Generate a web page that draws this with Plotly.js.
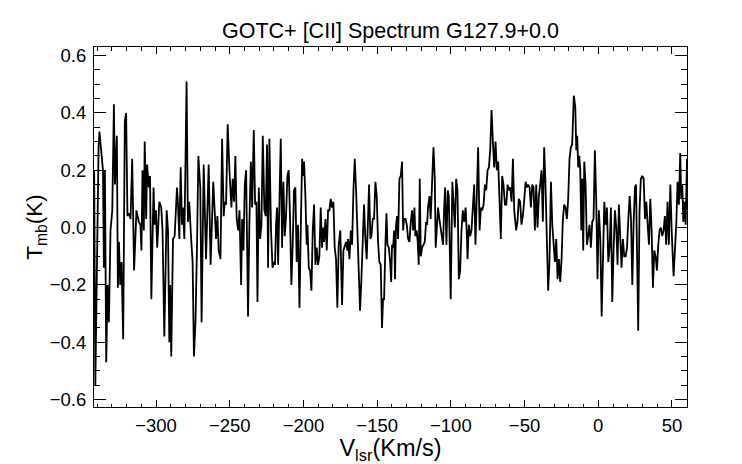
<!DOCTYPE html>
<html>
<head>
<meta charset="utf-8">
<script src="https://cdn.plot.ly/plotly-3.0.1.min.js"></script>
<style>html,body{margin:0;padding:0;background:#fff;}#chart{width:742px;height:464px;}</style>
</head>
<body>
<div id="chart"></div>
<script>
// Velocity (km/s) and main-beam temperature (K)
var velocity = [
-342.0,-341.2,-339.0,-338.4,-336.9,-336.0,-335.4,-334.7,-333.8,-332.9,-332.0,-330.9,-329.7,-328.6,-327.9,-326.6,-325.9,-325.2,-324.3,-323.4,-322.3,-321.2,-320.3,-319.4,-318.5,-317.3,-316.2,-314.9,-313.3,-311.7,-310.6,-309.9,-309.2,-308.3,-307.7,-306.7,-306.1,-304.9,-304.1,-303.2,
-301.7,-301.0,-300.1,-299.2,-297.8,-296.5,-295.6,-294.4,-292.8,-291.9,-291.0,-290.4,-289.7,-288.5,-287.4,-285.8,-285.1,-284.2,-283.3,-282.4,-281.8,-280.8,-280.2,-279.3,-278.4,-277.5,-276.3,-275.2,-274.3,-273.2,-272.2,-271.3,-270.0,-269.1,-267.7,-266.1,-264.3,-263.0,-261.2,
-259.3,-258.4,-257.5,-256.3,-255.2,-254.1,-253.4,-252.5,-251.4,-250.2,-248.9,-248.0,-247.1,-246.2,-245.3,-244.3,-243.4,-242.3,-241.6,-240.7,-239.8,-238.9,-237.6,-236.7,-235.7,-234.8,-233.7,-232.8,-231.9,-231.2,-230.3,-229.4,-228.5,-227.6,-226.5,-225.6,-224.7,-224.0,-223.1,-222.0,-221.0,
-220.0,-219.3,-218.6,-217.9,-217.2,-216.3,-215.4,-214.5,-213.6,-212.7,-211.8,-210.9,-210.0,-209.1,-208.2,-207.3,-206.4,-205.5,-204.6,-203.7,-202.7,-201.8,-200.9,-200.3,-199.6,-198.7,-197.8,-197.3,-196.4,-195.5,-194.6,-193.7,-192.8,-191.9,-191.0,-190.1,-189.2,-188.3,-187.4,-186.7,-186.0,-185.1,-184.2,-183.3,-182.4,-181.5,-180.6,-179.7,
-178.8,-177.9,-177.0,-176.1,-175.0,-173.8,-172.9,-171.1,-170.2,-169.7,-168.8,-167.9,-167.0,-166.1,-165.2,-164.3,-163.4,-162.5,-161.6,-160.7,-159.8,-158.9,-158.0,-157.1,-156.2,-155.5,-154.6,-153.9,-153.0,-152.1,-151.2,-150.3,-149.4,-148.5,-147.6,-146.7,-146.0,-145.3,-144.4,-143.7,-143.0,-142.1,-141.2,-140.5,-139.9,
-139.2,-138.5,-137.9,-137.2,-136.5,-135.8,-134.9,-134.0,-133.1,-132.4,-131.8,-130.8,-129.9,-129.0,-128.1,-127.2,-126.3,-125.6,-124.7,-124.1,-123.2,-122.5,-121.8,-121.1,-120.4,-119.5,-118.6,-117.7,-116.8,-116.1,-115.5,-114.5,-113.7,-112.8,-111.8,-110.9,-110.3,-109.6,-108.7,-107.8,-106.9,-106.0,-105.3,-104.6,-103.9,-103.0,-102.1,-101.4,-100.8,-100.1,-99.0,
-97.3,-96.4,-95.5,-94.6,-93.7,-92.8,-91.9,-91.0,-90.0,-89.1,-88.7,-87.8,-86.9,-86.0,-85.1,-84.2,-83.3,-82.4,-81.5,-80.5,-79.6,-78.7,-77.8,-76.9,-76.0,-75.1,-74.2,-73.3,-72.4,-71.5,-70.6,-69.7,-68.8,-67.9,-66.9,-66.1,-65.2,-64.3,-63.3,-62.4,-61.5,-60.6,-59.7,-58.8,-57.9,-57.0,
-55.7,-54.8,-53.9,-53.0,-52.1,-51.2,-50.3,-49.3,-48.4,-47.5,-46.6,-45.7,-44.8,-43.9,-43.0,-42.1,-41.2,-40.3,-39.4,-38.5,-37.6,-36.7,-35.8,-34.9,-34.0,-33.1,-32.1,-31.2,-30.3,-29.4,-28.5,-27.6,-26.7,-25.8,-24.9,-24.0,-23.1,-22.2,-21.3,-20.4,-19.5,-18.6,-17.7,-16.6,
-15.6,-14.9,-14.3,-13.6,-12.9,-12.2,-11.5,-10.9,-10.2,-9.5,-8.6,-7.7,-6.8,-5.9,-5.0,-4.1,-3.2,-2.3,-1.4,-0.5,0.4,1.4,2.3,3.2,4.1,5.0,5.9,6.8,7.7,8.6,9.5,10.4,11.3,12.2,13.1,14.0,14.9,15.8,16.7,17.6,18.6,19.5,20.4,21.3,22.2,23.1,24.0,
24.9,25.6,26.2,27.1,28.0,28.9,29.8,30.8,31.7,32.6,33.5,34.4,35.3,36.2,37.1,38.0,38.9,39.8,40.7,41.6,42.5,43.4,44.3,45.2,46.1,47.0,47.9,48.9,49.8,51.1,52.0,52.9,53.8,54.7,55.6,56.3,57.0,57.7,58.4,59.3,60.2
];
var tmb = [
0.20,-0.55,0.28,0.335,0.25,0.20,-0.14,0.20,-0.47,-0.20,-0.33,-0.01,0.06,0.43,0.15,0.32,-0.21,-0.05,-0.20,-0.12,-0.39,0.37,0.40,0.04,0.05,0.03,0.24,-0.15,0.06,0.02,0.01,-0.08,0.20,-0.01,0.30,0.03,0.22,0.14,0.18,-0.25,
0.14,0.01,0.06,-0.07,0.09,0.07,-0.01,-0.38,0.06,-0.01,-0.40,-0.20,-0.45,-0.04,-0.03,0.14,0.08,-0.04,0.21,0.01,0.07,-0.04,0.17,0.51,0.02,0.09,-0.03,-0.12,-0.45,-0.32,-0.06,0.25,0.14,-0.33,0.22,-0.11,0.22,-0.13,0.16,
-0.04,0.04,-0.08,-0.11,0.31,0.04,0.09,0.08,0.36,0.20,0.07,0.17,0.09,0.25,0.03,-0.01,0.06,-0.20,0.03,-0.08,0.15,0.20,-0.31,0.01,0.23,0.07,0.34,0.08,0.09,-0.26,0.14,-0.04,0.01,0.32,0.06,0.04,0.29,-0.14,0.31,-0.01,-0.14,
-0.12,-0.13,0.01,0.07,-0.13,0.15,0.31,-0.07,0.16,-0.03,0.04,0.18,0.20,0.03,-0.20,-0.06,0.13,0.14,-0.12,0.01,-0.28,0.00,0.24,0.18,0.23,0.11,-0.06,0.01,-0.14,-0.15,-0.22,-0.01,0.08,-0.13,-0.07,-0.13,-0.10,0.07,-0.07,0.00,-0.05,0.03,-0.08,0.06,0.06,0.10,0.07,0.09,
-0.07,-0.11,-0.28,-0.06,-0.01,-0.27,-0.08,-0.05,-0.08,-0.04,-0.11,-0.01,-0.06,0.13,0.24,0.13,-0.01,-0.20,-0.29,-0.18,-0.01,0.08,-0.04,-0.11,0.03,0.15,-0.04,-0.03,0.03,0.03,0.16,0.11,-0.05,-0.12,-0.13,-0.35,-0.25,-0.25,-0.06,0.05,-0.06,-0.07,-0.12,-0.19,-0.06,
-0.07,-0.01,-0.18,0.01,0.04,-0.04,0.17,0.18,0.23,-0.01,0.03,0.03,0.01,-0.04,-0.05,0.02,0.06,-0.01,0.07,-0.03,-0.01,-0.05,-0.13,0.17,-0.10,-0.07,-0.06,-0.05,0.02,0.01,0.07,0.11,0.03,0.15,0.28,0.17,-0.07,-0.01,0.07,0.03,-0.01,-0.03,-0.06,0.06,0.14,-0.06,0.13,0.11,-0.04,-0.25,0.16,
0.00,0.17,0.13,-0.18,-0.15,-0.01,0.06,0.02,0.07,-0.03,-0.11,0.01,-0.03,-0.01,0.08,0.15,-0.06,0.13,0.28,-0.01,0.07,0.06,0.08,0.15,0.13,0.20,0.21,0.27,0.41,0.30,0.21,0.30,0.20,0.23,0.10,-0.04,0.18,0.15,0.08,0.08,0.15,0.13,0.14,0.09,0.24,0.06,
-0.01,0.02,0.10,0.09,0.01,0.04,0.09,0.16,0.14,0.15,0.14,0.07,0.15,0.14,-0.01,0.15,0.00,0.11,0.15,0.20,0.02,0.28,0.15,-0.06,-0.22,-0.12,0.16,0.01,-0.08,-0.12,-0.04,-0.18,-0.11,-0.19,-0.11,0.03,0.08,0.07,0.03,0.10,0.24,0.28,0.29,0.46,
0.42,0.27,0.32,0.21,0.25,0.20,-0.01,0.17,-0.08,0.23,0.15,-0.06,-0.03,0.01,-0.07,0.02,0.03,0.27,0.10,-0.18,0.06,-0.04,-0.31,-0.08,0.09,0.01,0.07,-0.12,-0.07,0.07,-0.26,-0.08,0.06,0.00,-0.13,0.08,-0.06,-0.14,-0.04,-0.10,-0.10,-0.07,0.03,0.11,0.03,-0.20,0.02,
0.14,0.15,-0.08,-0.36,0.06,0.17,0.18,0.17,0.03,0.09,0.01,-0.06,0.10,-0.01,-0.21,-0.08,-0.10,-0.15,-0.06,-0.01,0.00,-0.03,-0.01,0.04,-0.06,0.09,-0.06,0.15,-0.01,-0.17,-0.08,0.01,0.16,0.08,0.26,0.10,0.15,0.02,0.09,0.01,0.24
];
var chartTitle = 'GOTC+ [CII] Spectrum G127.9+0.0';
var xLabel = 'V<sub>lsr</sub>(Km/s)';
var yLabel = 'T<sub>mb</sub>(K)';

var fontFam = 'Liberation Sans, Arial, Helvetica, sans-serif';
var trace = {
  x: velocity, y: tmb, type: 'scatter', mode: 'lines',
  line: {color: '#000', width: 1.8}, hoverinfo: 'skip'
};
var layout = {
  width: 742, height: 464,
  margin: {l: 94, r: 55, t: 47, b: 57, pad: 0},
  paper_bgcolor: '#fff', plot_bgcolor: '#fff',
  showlegend: false,
  font: {family: fontFam, color: '#000', size: 18},
  title: {text: chartTitle, x: 0.5, xref: 'paper', xanchor: 'center', y: 0.935, yanchor: 'middle',
          font: {family: fontFam, size: 21.5, color: '#000'}},
  xaxis: {
    range: [-342.1, 60.2], autorange: false,
    tickmode: 'linear', tick0: 0, dtick: 50,
    ticks: 'inside', ticklen: 7, tickwidth: 1, tickcolor: '#000',
    minor: {ticks: 'inside', ticklen: 3.5, dtick: 10, tick0: 0, tickwidth: 1, tickcolor: '#000'},
    showline: true, linecolor: '#000', linewidth: 1, mirror: 'ticks',
    showgrid: false, zeroline: false, ticklabelstandoff: 2,
    tickfont: {family: fontFam, size: 18.5, color: '#000'},
    title: {text: xLabel, font: {family: fontFam, size: 23.5, color: '#000'}, standoff: 0}
  },
  yaxis: {
    range: [-0.626, 0.630], autorange: false,
    tickmode: 'linear', tick0: 0, dtick: 0.2, tickformat: '.1f',
    ticks: 'inside', ticklen: 12, tickwidth: 1, tickcolor: '#000',
    minor: {ticks: 'inside', ticklen: 6, dtick: 0.05, tick0: 0, tickwidth: 1, tickcolor: '#000'},
    showline: true, linecolor: '#000', linewidth: 1, mirror: 'ticks',
    showgrid: false, zeroline: false, ticklabelstandoff: 3,
    tickfont: {family: fontFam, size: 18.5, color: '#000'},
    title: {text: yLabel, font: {family: fontFam, size: 22.5, color: '#000'}, standoff: 0}
  }
};
Plotly.newPlot('chart', [trace], layout, {displayModeBar: false, staticPlot: true});
</script>
</body>
</html>
